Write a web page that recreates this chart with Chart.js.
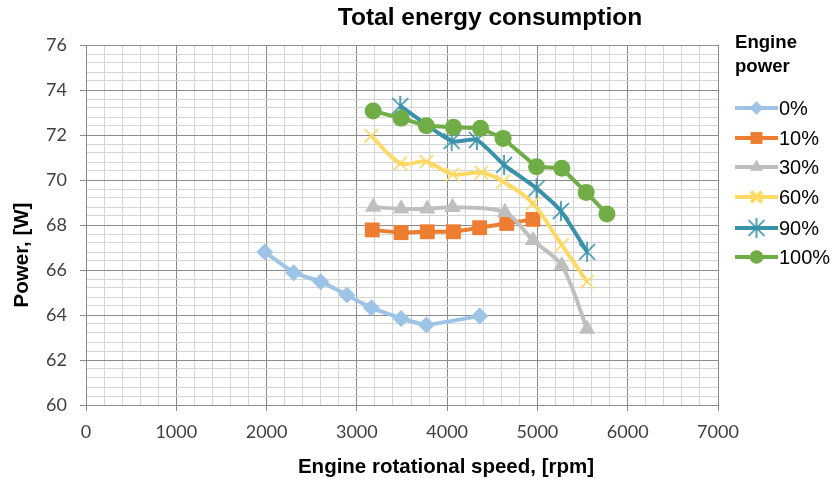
<!DOCTYPE html>
<html>
<head>
<meta charset="utf-8">
<script src="https://cdn.jsdelivr.net/npm/chart.js@4.4.1/dist/chart.umd.min.js"></script>
<style>
  html, body { margin: 0; padding: 0; background: #fff; }
  #wrap { width: 835px; height: 484px; position: relative; }
</style>
</head>
<body>
<div id="wrap"><canvas id="c" width="835" height="484"></canvas></div>
<script>
// ---- Data ----
const seriesLabels = ['0%', '10%', '30%', '60%', '90%', '100%'];

const rpm0  = [1980, 2300, 2600, 2890, 3160, 3490, 3770, 4360];
const pow0  = [66.80, 65.88, 65.48, 64.89, 64.32, 63.85, 63.56, 63.96];

const rpm10 = [3170, 3490, 3780, 4070, 4360, 4660, 4950];
const pow10 = [67.78, 67.66, 67.70, 67.70, 67.88, 68.07, 68.25];

const rpm30 = [3180, 3490, 3780, 4060, 4640, 4950, 5270, 5550];
const pow30 = [68.80, 68.72, 68.72, 68.79, 68.57, 67.32, 66.20, 63.38];

const rpm60 = [3160, 3480, 3770, 4060, 4380, 4620, 4950, 5270, 5550];
const pow60 = [71.96, 70.74, 70.81, 70.25, 70.33, 69.93, 68.96, 67.11, 65.48];

const rpm90 = [3480, 4050, 4330, 4630, 4990, 5260, 5550];
const pow90 = [73.29, 71.73, 71.78, 70.67, 69.63, 68.62, 66.81];

const rpm100 = [3180, 3490, 3770, 4070, 4370, 4620, 4990, 5270, 5540, 5770];
const pow100 = [73.07, 72.74, 72.41, 72.34, 72.30, 71.85, 70.59, 70.52, 69.45, 68.49];

const xTickMajor = [0, 1000, 2000, 3000, 4000, 5000, 6000, 7000];
const yTickMajor = [60, 62, 64, 66, 68, 70, 72, 74, 76];

const chartTitle = 'Total energy consumption';
const xTitle = 'Engine rotational speed, [rpm]';
const yTitle = 'Power, [W]';
const legendTitle = ['Engine', 'power'];

// ---- Styles ----
const colors = ['#9DC3E6', '#ED7D31', '#BFBFBF', '#FFD966', '#3A91AA', '#70AD47'];

function makeAsterisk(color) {
  const s = 22, c = document.createElement('canvas');
  c.width = s; c.height = s;
  const g = c.getContext('2d');
  g.strokeStyle = color; g.lineWidth = 1.7; g.lineCap = 'butt';
  const m = s / 2, r = 8;
  g.beginPath();
  g.moveTo(m - r, m - r); g.lineTo(m + r, m + r);
  g.moveTo(m + r, m - r); g.lineTo(m - r, m + r);
  g.moveTo(m, m - r - 2); g.lineTo(m, m + r + 2);
  g.stroke();
  return c;
}
const asterisk = makeAsterisk(colors[4]);

const markerStyles = [
  { pointStyle: 'rectRot', radius: 8.5, borderWidth: 0 },
  { pointStyle: 'rect', radius: 10.5, borderWidth: 0 },
  { pointStyle: 'triangle', radius: 9.5, borderWidth: 0 },
  { pointStyle: 'crossRot', radius: 9.5, borderWidth: 1.7 },
  { pointStyle: asterisk, radius: 9, borderWidth: 0 },
  { pointStyle: 'circle', radius: 8.5, borderWidth: 0 }
];
const tensions = [0.1, 0.1, 0.3, 0.3, 0.2, 0];

function toPts(xs, ys) { return xs.map((x, i) => ({ x: x, y: ys[i] })); }
const xsAll = [rpm0, rpm10, rpm30, rpm60, rpm90, rpm100];
const ysAll = [pow0, pow10, pow30, pow60, pow90, pow100];

const datasets = seriesLabels.map((lab, i) => ({
  label: lab,
  data: toPts(xsAll[i], ysAll[i]),
  borderColor: colors[i],
  backgroundColor: colors[i],
  pointBackgroundColor: colors[i],
  pointBorderColor: colors[i],
  pointStyle: markerStyles[i].pointStyle,
  pointRadius: markerStyles[i].radius,
  pointHoverRadius: markerStyles[i].radius,
  pointBorderWidth: markerStyles[i].borderWidth,
  borderWidth: 4,
  tension: tensions[i],
  showLine: true,
  fill: false,
  order: seriesLabels.length - 1 - i
}));

function isMajor(v, step) {
  const q = v / step;
  return Math.abs(q - Math.round(q)) < 1e-6;
}

const decor = {
  id: 'decor',
  afterDraw(chart) {
    const ctx = chart.ctx;
    ctx.save();
    ctx.fillStyle = '#000';
    ctx.textAlign = 'center';
    ctx.textBaseline = 'middle';
    ctx.font = 'bold 24.5px "Liberation Sans", Arial, sans-serif';
    ctx.fillText(chartTitle, 490, 18);
    ctx.font = 'bold 20.5px "Liberation Sans", Arial, sans-serif';
    ctx.fillText(xTitle, 446, 467);
    ctx.save();
    ctx.translate(22, 255);
    ctx.rotate(-Math.PI / 2);
    ctx.fillText(yTitle, 0, 0);
    ctx.restore();

    // legend
    ctx.textAlign = 'left';
    ctx.font = 'bold 18.6px "Liberation Sans", Arial, sans-serif';
    ctx.fillText(legendTitle[0], 735, 43);
    ctx.fillText(legendTitle[1], 735, 67);
    const ys = [108, 138, 167, 197, 228, 257];
    ctx.font = '20px "Liberation Sans", Arial, sans-serif';
    chart.data.datasets.forEach((ds, i) => {
      const y = ys[i];
      ctx.strokeStyle = ds.borderColor;
      ctx.lineWidth = 4;
      ctx.beginPath();
      ctx.moveTo(735, y); ctx.lineTo(778, y);
      ctx.stroke();
      const ms = markerStyles[i];
      ctx.fillStyle = ds.borderColor;
      ctx.strokeStyle = ds.borderColor;
      Chart.helpers.drawPoint(ctx, {
        pointStyle: ms.pointStyle,
        radius: ms.radius * 0.8,
        rotation: 0,
        borderWidth: ms.borderWidth
      }, 756.5, y);
      ctx.fillStyle = '#000';
      ctx.fillText(ds.label, 779, y + 1);
    });
    ctx.restore();
  }
};

const gridColor = (step) => (c) => (c.tick && isMajor(c.tick.value, step)) ? '#8C8C8C' : '#D4D4D4';
const tickColor = (step) => (c) => (c.tick && isMajor(c.tick.value, step)) ? '#8C8C8C' : 'rgba(0,0,0,0)';

new Chart(document.getElementById('c'), {
  type: 'scatter',
  data: { datasets: datasets },
  plugins: [decor],
  options: {
    responsive: false,
    animation: false,
    devicePixelRatio: 1,
    layout: { padding: { top: 45, right: 117, left: 0, bottom: 0 } },
    plugins: {
      legend: { display: false },
      title: { display: false },
      tooltip: { enabled: false }
    },
    scales: {
      x: {
        type: 'linear',
        min: xTickMajor[0],
        max: xTickMajor[xTickMajor.length - 1],
        afterFit(s) { s.height = 79; },
        ticks: {
          stepSize: 200,
          autoSkip: false,
          maxRotation: 0,
          padding: 10,
          color: '#404040',
          font: { family: 'Lato, "Open Sans", sans-serif', size: 18 },
          callback: (v) => xTickMajor.includes(v) ? String(v) : ''
        },
        grid: { color: gridColor(1000), tickColor: tickColor(1000), tickLength: 6, lineWidth: 1 },
        border: { color: '#8C8C8C', width: 1 }
      },
      y: {
        type: 'linear',
        min: yTickMajor[0],
        max: yTickMajor[yTickMajor.length - 1],
        afterFit(s) { s.width = 86; },
        ticks: {
          stepSize: 0.4,
          autoSkip: false,
          padding: 13,
          color: '#404040',
          font: { family: 'Lato, "Open Sans", sans-serif', size: 18 },
          callback: (v) => {
            const m = yTickMajor.find(t => Math.abs(t - v) < 1e-6);
            return m !== undefined ? String(m) : '';
          }
        },
        grid: { color: gridColor(2), tickColor: tickColor(2), tickLength: 6, lineWidth: 1 },
        border: { color: '#8C8C8C', width: 1 }
      }
    }
  }
});
</script>
</body>
</html>
